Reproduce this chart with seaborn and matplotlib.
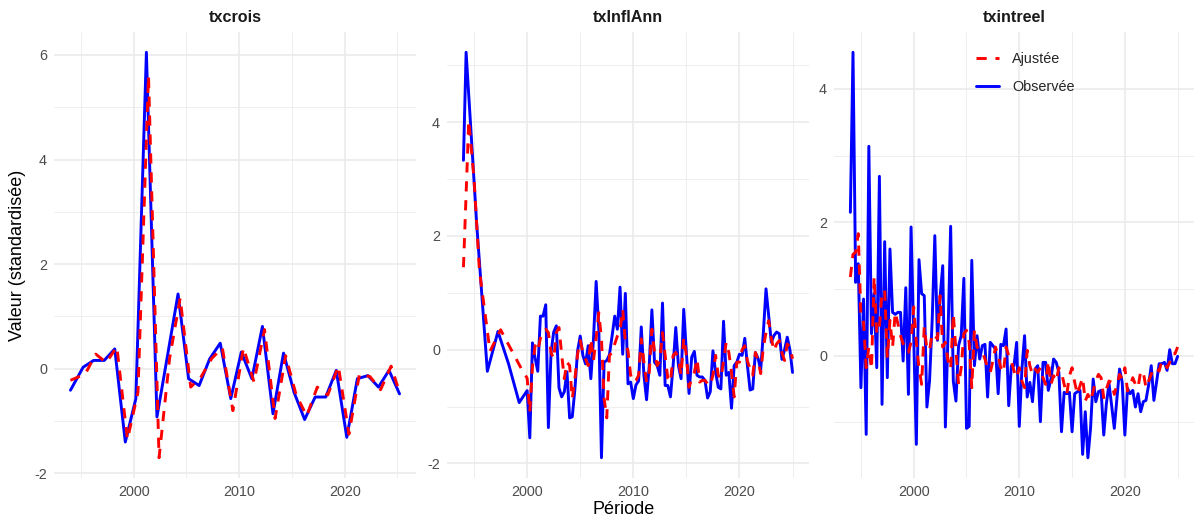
import numpy as np
import pandas as pd
import matplotlib
matplotlib.use("Agg")
import matplotlib.pyplot as plt
from matplotlib.ticker import MultipleLocator
from matplotlib.lines import Line2D
import seaborn as sns

# ---------------------------------------------------------------------------
# Data : séries standardisées, observées et ajustées
# ---------------------------------------------------------------------------
variables = ["txcrois", "txInflAnn", "txintreel"]
series_labels = ["Ajustée", "Observée"]

# txcrois (annuel)
crois_obs_dates = [1994.0] + [y + 0.2 for y in range(1995, 2026)]
crois_obs = [-0.41, 0.03, 0.16, 0.16, 0.38, -1.40, -0.57, 6.05, -0.92, 0.25,
             1.43, -0.19, -0.32, 0.19, 0.49, -0.57, 0.32, -0.19, 0.81, -0.86,
             0.30, -0.45, -0.97, -0.54, -0.54, -0.03, -1.31, -0.19, -0.13, -0.35,
             -0.03, -0.48]
crois_fit_dates = [1994.0] + [y + 0.4 for y in range(1995, 2025)] + [2025.2]
crois_fit = [-0.22, -0.10, 0.28, 0.12, 0.42, -1.35, -0.45, 5.60, -1.70, 0.20,
             1.35, -0.35, -0.15, 0.20, 0.40, -0.80, 0.40, -0.25, 0.75, -0.95,
             0.25, -0.50, -0.90, -0.35, -0.50, 0.05, -1.25, -0.10, -0.15, -0.40,
             0.05, -0.45]

# txInflAnn (annuel jusqu'en 1999, trimestriel ensuite)
quarters_2000 = list(np.arange(2000.0, 2025.001, 0.25))
infl_obs_dates = [1994.0, 1994.25, 1995.25, 1996.25, 1997.25, 1998.25, 1999.25] + quarters_2000
infl_obs = [3.33, 5.23, 2.20, -0.38, 0.32, -0.25, -0.93,
            -0.72, -1.55, 0.12, -0.15,
            -0.38, 0.59, 0.59, 0.79,
            -1.37, -0.05, 0.31, 0.42,
            -0.67, -0.83, -0.74, -0.39,
            -1.20, -1.18, -0.69, -0.02,
            0.24, -0.10, -0.25, 0.07,
            -0.51, 0.19, 1.20, 0.36,
            -1.90, -0.22, -0.19, -0.09,
            0.24, 0.59, 0.36, 1.10,
            -0.08, 0.99, -0.60, -0.57,
            -0.86, -0.62, -0.55, 0.40,
            -0.45, -0.88, -0.28, 0.70,
            -0.22, -0.28, -0.45, 0.82,
            -0.63, -0.63, -0.83, -0.28,
            0.39, -0.28, -0.51, 0.71,
            -0.05, -0.77, -0.13, -0.03,
            -0.45, -0.48, -0.48, -0.54,
            -0.85, -0.74, -0.02, -0.39,
            -0.66, -0.69, 0.50, -0.45,
            -0.40, -1.03, -0.28, -0.22,
            -0.08, -0.10, 0.20, -0.28,
            -0.71, -0.69, -0.05, -0.15,
            -0.35, 0.30, 1.07, 0.60,
            0.13, 0.25, 0.31, 0.28,
            -0.17, 0.00, 0.22, 0.00,
            -0.40]
infl_fit_dates = [1994.0, 1994.5, 1995.0, 1995.5, 1996.5, 1997.5, 1998.5, 1999.5] + quarters_2000
infl_fit = [1.45, 4.03, 3.00, 1.40, -0.03, 0.35, 0.00, -0.35,
            -0.50, -1.10, -0.30, 0.07,
            -0.02, 0.20, 0.30, 0.36,
            0.30, -0.05, -0.16, 0.30,
            0.39, -0.08, -0.51, -0.22,
            -0.28, -0.86, -0.51, -0.08,
            0.16, -0.05, -0.16, -0.28,
            0.19, -0.19, 0.21, 0.65,
            0.19, -0.86, -1.20, -0.10,
            -0.05, 0.10, 0.24, 0.33,
            0.71, 0.13, -0.02, -0.45,
            -0.57, -0.54, -0.45, 0.19,
            -0.22, -0.57, -0.40, 0.36,
            -0.05, -0.28, -0.20, 0.30,
            -0.10, -0.51, -0.57, -0.10,
            -0.05, -0.16, -0.45, 0.21,
            -0.10, -0.66, -0.50, -0.40,
            -0.16, -0.57, -0.54, -0.54,
            -0.60, -0.63, -0.45, -0.10,
            -0.45, -0.51, -0.20, 0.13,
            -0.05, -0.40, -0.83, -0.22,
            -0.22, 0.00, 0.07, -0.20,
            -0.34, -0.45, -0.05, -0.19,
            -0.42, 0.04, 0.30, 0.51,
            0.20, -0.02, 0.10, 0.16,
            -0.05, -0.19, 0.10, 0.05,
            -0.16]

# txintreel (trimestriel)
intreel_dates = list(np.arange(1994.0, 2025.001, 0.25))
intreel_obs = [2.15, 4.55, 1.10, 1.38,
               -0.48, 0.85, -1.18, 3.14,
               0.33, 0.93, -0.18, 2.69,
               -0.73, 1.71, -0.33, 1.60,
               0.65, 0.62, 0.65, 0.65,
               -0.08, 1.02, -0.58, 1.93,
               0.28, -1.33, 1.44, 0.93,
               0.90, -0.77, -0.38, 0.53,
               1.80, 0.23, 0.88, 1.35,
               -1.07, 0.33, 1.94, -0.38,
               -0.68, 0.15, 0.30, 1.16,
               -1.09, -1.06, 1.43, -0.15,
               0.30, -0.05, 0.15, 0.17,
               -0.62, 0.20, 0.15, 0.10,
               -0.57, 0.17, 0.15, 0.40,
               -0.75, -0.15, -0.15, 0.20,
               -1.06, -0.20, 0.30, -0.62,
               -0.40, -0.69, -0.20, -0.15,
               -0.99, -0.10, -0.10, -0.52,
               -0.35, -0.05, -0.10, -0.25,
               -1.14, -0.55, -0.57, -0.55,
               -1.14, -0.57, -0.54, -0.52,
               -1.48, -0.84, -1.53, -1.09,
               -0.35, -0.69, -0.54, -0.52,
               -1.19, -0.72, -0.42, -0.75,
               -1.09, -0.64, -0.20, -0.40,
               -1.19, -0.49, -0.57, -0.52,
               -0.77, -0.57, -0.84, -0.69,
               -0.67, -0.44, -0.15, -0.67,
               -0.40, -0.12, -0.12, -0.10,
               -0.22, 0.09, -0.12, -0.12,
               -0.01]
intreel_fit = [1.18, 1.52, 1.55, 1.83,
               0.58, 0.50, -0.18, 0.13,
               -0.20, 1.18, 0.33, 0.43,
               0.95, 0.98, -0.03, 0.53,
               0.13, 0.65, 0.48, 0.30,
               0.18, 0.10, 0.05, 0.20,
               0.73, 0.20, -0.18, -0.43,
               0.43, 0.10, 0.08, 0.33,
               0.30, 0.25, 0.90, 0.13,
               0.20, -0.08, -0.20, 0.63,
               0.08, -0.43, -0.18, 0.33,
               0.38, 0.20, -0.48, 0.38,
               0.13, 0.08, 0.05, -0.05,
               -0.18, -0.25, -0.08, 0.13,
               0.00, -0.18, -0.25, 0.13,
               0.00, -0.08, -0.23, -0.33,
               -0.18, -0.38, -0.48, 0.08,
               -0.15, -0.28, -0.20, -0.25,
               -0.18, -0.33, -0.43, -0.08,
               -0.43, -0.30, -0.38, -0.18,
               -0.25, -0.43, -0.58, -0.30,
               -0.18, -0.40, -0.58, -0.45,
               -0.33, -0.68, -0.58, -0.68,
               -0.53, -0.38, -0.28, -0.33,
               -0.63, -0.50, -0.38, -0.40,
               -0.58, -0.43, -0.28, -0.35,
               -0.18, -0.53, -0.45, -0.33,
               -0.43, -0.48, -0.23, -0.25,
               -0.48, -0.38, -0.28, -0.18,
               -0.20, -0.23, -0.08, -0.10,
               -0.18, -0.10, 0.03, 0.03,
               0.13]

# ---------------------------------------------------------------------------
# Tableau long
# ---------------------------------------------------------------------------
frames = []


def add(var, serie, dates, values):
    frames.append(pd.DataFrame({"variable": var, "serie": serie,
                                "periode": dates, "valeur": values}))


add("txcrois", "Observée", crois_obs_dates, crois_obs)
add("txcrois", "Ajustée", crois_fit_dates, crois_fit)
add("txInflAnn", "Observée", infl_obs_dates, infl_obs)
add("txInflAnn", "Ajustée", infl_fit_dates, infl_fit)
add("txintreel", "Observée", intreel_dates, intreel_obs)
add("txintreel", "Ajustée", intreel_dates, intreel_fit)
df = pd.concat(frames, ignore_index=True)

# ---------------------------------------------------------------------------
# Figure
# ---------------------------------------------------------------------------
sns.set_theme(style="white")
plt.rcParams["font.family"] = ["Liberation Sans", "DejaVu Sans"]
plt.rcParams["axes.unicode_minus"] = False

W, H = 1198, 530
fig = plt.figure(figsize=(W / 100, H / 100), dpi=100)
fig.patch.set_facecolor("white")

colors = {"Observée": "#0000FF", "Ajustée": "#FF0000"}
dash = (0, (3.5, 3))
lw = 2.1

panels = [(54, 416), (447, 809), (834, 1194)]
top, bottom = 32, 478

axes = []
for (left, right), var in zip(panels, variables):
    ax = fig.add_axes([left / W, 1 - bottom / H, (right - left) / W, (bottom - top) / H])
    sub = df[df["variable"] == var]
    sns.lineplot(data=sub[sub["serie"] == "Observée"], x="periode", y="valeur",
                 color=colors["Observée"], linewidth=lw, estimator=None,
                 errorbar=None, legend=False, ax=ax)
    sns.lineplot(data=sub[sub["serie"] == "Ajustée"], x="periode", y="valeur",
                 color=colors["Ajustée"], linewidth=lw, linestyle=dash,
                 estimator=None, errorbar=None, legend=False, ax=ax)
    ax.margins(x=0.05, y=0.05)
    ax.xaxis.set_major_locator(MultipleLocator(10))
    ax.xaxis.set_minor_locator(MultipleLocator(5))
    ax.yaxis.set_major_locator(MultipleLocator(2))
    ax.yaxis.set_minor_locator(MultipleLocator(1))
    ax.grid(which="major", color="#EBEBEB", linewidth=1.2)
    ax.grid(which="minor", color="#EBEBEB", linewidth=0.6)
    ax.set_axisbelow(True)
    for s in ax.spines.values():
        s.set_visible(False)
    ax.tick_params(which="both", length=0, labelsize=10.4, colors="#4D4D4D", pad=5)
    ax.set_xlabel("")
    ax.set_ylabel("")
    fig.text((left + right) / 2 / W, 1 - 17 / H, var, ha="center", va="center",
             fontsize=11.6, fontweight="bold", color="#1A1A1A")
    axes.append(ax)

fig.text(18 / W, 1 - 255 / H, "Valeur (standardisée)", rotation=90,
         ha="center", va="center", fontsize=13, color="black")
fig.text(624 / W, 1 - 510 / H, "Période", ha="center", va="center",
         fontsize=13, color="black")

handles = [Line2D([], [], color=colors["Ajustée"], linewidth=lw, linestyle=dash),
           Line2D([], [], color=colors["Observée"], linewidth=lw)]
axes[2].legend(handles, series_labels, loc="upper left",
               bbox_to_anchor=(976 / W, 1 - 52 / H), bbox_transform=fig.transFigure,
               frameon=False, fontsize=10.4, handlelength=1.6, handletextpad=0.9,
               labelspacing=1.0, borderpad=0, borderaxespad=0)

fig.savefig("out.png", dpi=100, facecolor="white")
